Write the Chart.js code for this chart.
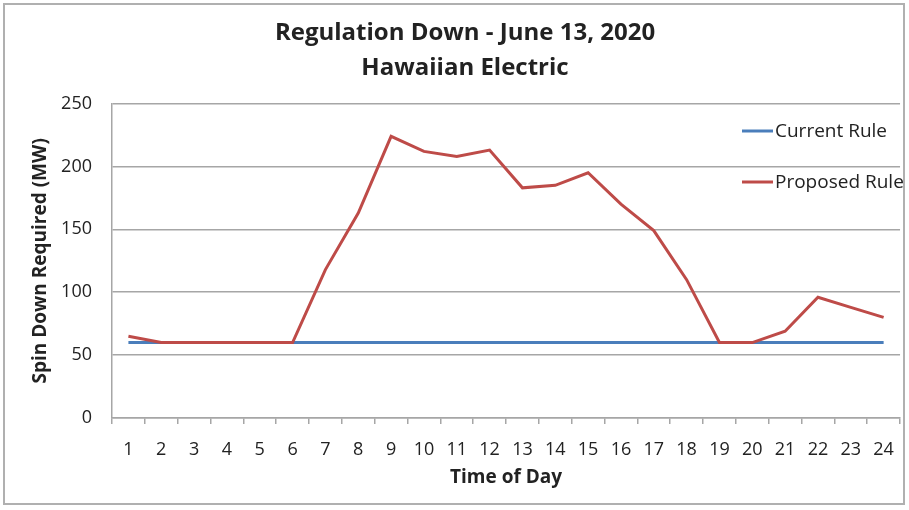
<!DOCTYPE html>
<html>
<head>
<meta charset="utf-8">
<script src="https://cdn.jsdelivr.net/npm/chart.js@4.4.1/dist/chart.umd.min.js"></script>
<style>
  html, body { margin: 0; padding: 0; background: #fff; }
  #wrap { position: relative; width: 909px; height: 510px; }
  #frame { position: absolute; left: 3px; top: 3px; width: 902px; height: 502px; border: 2px solid #b0b0b0; box-sizing: border-box; pointer-events: none; }
</style>
</head>
<body>
<div id="wrap">
  <canvas id="chart" width="909" height="510"></canvas>
  <div id="frame"></div>
</div>
<script>
// -------- DATA -------- //
const hours = ["1", "2", "3", "4", "5", "6", "7", "8", "9", "10", "11", "12",
  "13", "14", "15", "16", "17", "18", "19", "20", "21", "22", "23", "24"];
const currentRule = [60, 60, 60, 60, 60, 60, 60, 60, 60, 60, 60, 60,
  60, 60, 60, 60, 60, 60, 60, 60, 60, 60, 60, 60];
const proposedRule = [65, 60, 60, 60, 60, 60, 118, 163, 224, 212, 208, 213,
  183, 185, 195, 170, 149, 110, 60, 60, 69, 96, 88, 80];
const yTicks = [0, 50, 100, 150, 200, 250];

const FONT = "'Open Sans', 'DejaVu Sans', sans-serif";

// -------- LEGEND (drawn inside plot, top right) -------- //
const insideLegend = {
  id: 'insideLegend',
  afterDraw(chart) {
    const ctx = chart.ctx;
    const items = chart.data.datasets;
    ctx.save();
    ctx.font = '19px ' + FONT;
    ctx.textBaseline = 'middle';
    ctx.fillStyle = '#222';
    items.forEach((ds, i) => {
      const y = 131 + i * 51;
      ctx.strokeStyle = ds.borderColor;
      ctx.lineWidth = 3;
      ctx.beginPath();
      ctx.moveTo(742, y);
      ctx.lineTo(773, y);
      ctx.stroke();
      ctx.fillText(ds.label, 775, y + 1);
    });
    ctx.restore();
  }
};

let ctx = document.getElementById('chart');

new Chart(ctx, {
  type: 'line',
  data: {
    labels: hours,
    datasets: [{
      label: 'Current Rule',
      data: currentRule,
      borderColor: '#4a7ebb',
      borderWidth: 3,
      pointRadius: 0,
      tension: 0,
      order: 2
    }, {
      label: 'Proposed Rule',
      data: proposedRule,
      borderColor: '#be4b48',
      borderWidth: 3,
      pointRadius: 0,
      tension: 0,
      order: 1
    }]
  },
  options: {
    responsive: false,
    animation: { duration: 0 },
    layout: { padding: { left: 25, right: 4, top: 14, bottom: 17 } },
    scales: {
      x: {
        offset: true,
        afterFit: scale => { scale.height = 75; },
        grid: { offset: true, drawOnChartArea: false, drawTicks: true, tickLength: 6, color: '#a6a6a6', lineWidth: 1.5 },
        border: { color: '#a6a6a6', width: 1.5 },
        ticks: { color: '#222', font: { family: FONT, size: 18 }, padding: 15, maxRotation: 0, autoSkip: false },
        title: { display: true, text: 'Time of Day', color: '#222', font: { family: FONT, size: 19, weight: 'bold' }, padding: { top: 0, bottom: 4 } }
      },
      y: {
        min: 0,
        max: 250,
        afterBuildTicks: scale => { scale.ticks = yTicks.map(v => ({ value: v })); },
        afterFit: scale => { scale.width = 87; },
        grid: { drawTicks: false, color: '#a6a6a6', lineWidth: 1.5 },
        border: { color: '#a6a6a6', width: 1.5 },
        ticks: { color: '#222', font: { family: FONT, size: 18 }, padding: 20 },
        title: { display: true, text: 'Spin Down Required (MW)', color: '#222', font: { family: FONT, size: 19, weight: 'bold' }, padding: { top: 4, bottom: 4 } }
      }
    },
    plugins: {
      legend: { display: false },
      tooltip: { enabled: false },
      title: {
        display: true,
        text: ['Regulation Down - June 13, 2020', 'Hawaiian Electric'],
        color: '#222',
        font: { family: FONT, size: 24, weight: 'bold', lineHeight: 1.45 },
        padding: { top: 2, bottom: 18 }
      }
    }
  },
  plugins: [insideLegend]
});
</script>
</body>
</html>
